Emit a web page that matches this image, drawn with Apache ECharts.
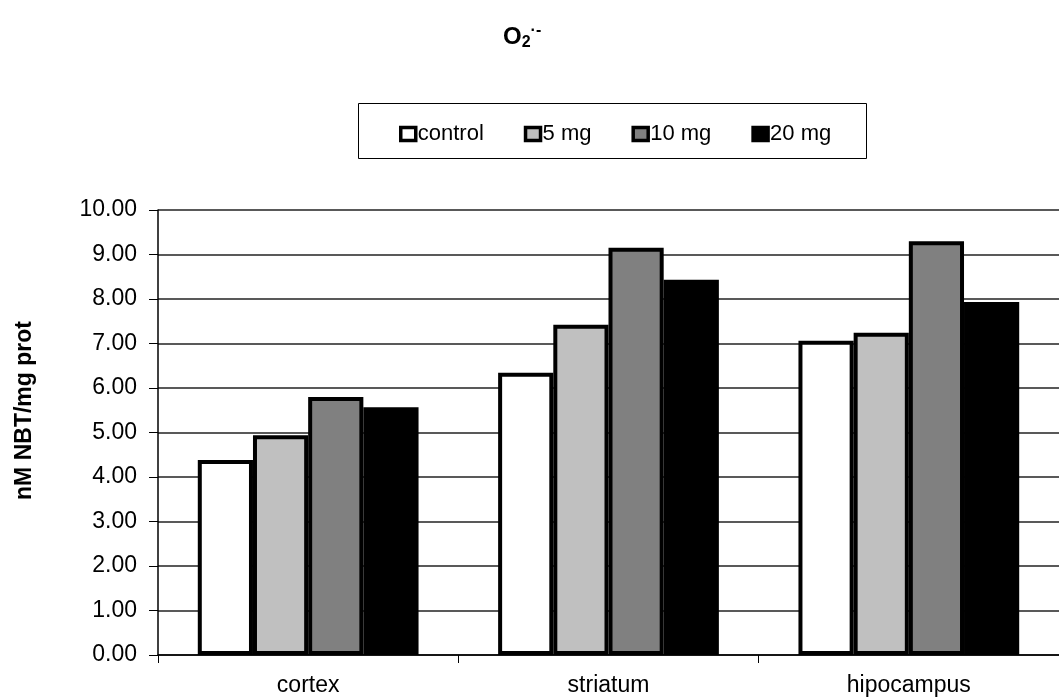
<!DOCTYPE html>
<html><head><meta charset="utf-8">
<script src="https://cdn.jsdelivr.net/npm/echarts@6/dist/echarts.min.js"></script>
<style>html,body{margin:0;padding:0;background:#fff}#c{width:1059px;height:699px}</style>
</head><body><div id="c"></div>
<script>
const categories = ['cortex', 'striatum', 'hipocampus'];
const seriesNames = ['control', '5 mg', '10 mg', '20 mg'];
const control = [4.38, 6.34, 7.06];
const mg5 = [4.94, 7.42, 7.24];
const mg10 = [5.80, 9.15, 9.30];
const mg20 = [5.57, 8.43, 7.93];
const colors = ['#ffffff', '#c0c0c0', '#808080', '#000000'];
const values = [control, mg5, mg10, mg20];

const font = '"Liberation Sans", Arial, sans-serif';
const chart = echarts.init(document.getElementById('c'));
chart.setOption({
  animation: false,
  title: {
    text: '{m|O}{s|2}{p|·-}',
    left: 498, top: 18,
    textStyle: {
      rich: {
        m: {fontFamily: font, fontWeight: 'bold', fontSize: 24, color: '#000'},
        s: {fontFamily: font, fontWeight: 'bold', fontSize: 16, color: '#000', verticalAlign: 'bottom', padding: [12, 0, 0, 0]},
        p: {fontFamily: font, fontWeight: 'bold', fontSize: 16, color: '#000', verticalAlign: 'top', padding: [0, 0, 12, 0]}
      }
    }
  },
  graphic: [{
    type: 'rect', left: 358, top: 103,
    shape: {width: 508, height: 55},
    style: {fill: '#fff', stroke: '#000', lineWidth: 1}
  }],
  legend: {
    data: seriesNames,
    left: 394, top: 118,
    icon: 'rect',
    itemWidth: 15, itemHeight: 13, itemGap: 40,
    z: 10,
    textStyle: {fontFamily: font, fontSize: 22, color: '#000', padding: [0, 0, 0, -3]},
    itemStyle: {borderColor: '#000', borderWidth: 3.5}
  },
  grid: {left: 158, right: 0, top: 210, bottom: 44, containLabel: false},
  xAxis: {
    type: 'category', data: categories,
    axisLine: {lineStyle: {color: '#000', width: 1.5}},
    axisTick: {show: true, length: 8, alignWithLabel: false, lineStyle: {color: '#000'}},
    axisLabel: {fontFamily: font, fontSize: 23, color: '#000', margin: 19}
  },
  yAxis: {
    type: 'value', min: 0, max: 10, interval: 1,
    name: 'nM NBT/mg prot', nameLocation: 'middle', nameGap: 122,
    nameTextStyle: {fontFamily: font, fontWeight: 'bold', fontSize: 23, color: '#000', padding: [0, 0, 0, 44]},
    axisLine: {show: true, lineStyle: {color: '#000', width: 1.5}},
    axisTick: {show: true, inside: false, length: 9, lineStyle: {color: '#000'}},
    axisLabel: {fontFamily: font, fontSize: 23, color: '#000', margin: 21, formatter: v => v.toFixed(2)},
    splitLine: {show: true, lineStyle: {color: '#222', width: 1.5}}
  },
  series: seriesNames.map((n, i) => ({
    name: n, type: 'bar', data: values[i],
    barGap: '0%', barCategoryGap: '26.5%',
    itemStyle: {color: colors[i], borderColor: '#000', borderWidth: 4}
  }))
});
</script></body></html>
